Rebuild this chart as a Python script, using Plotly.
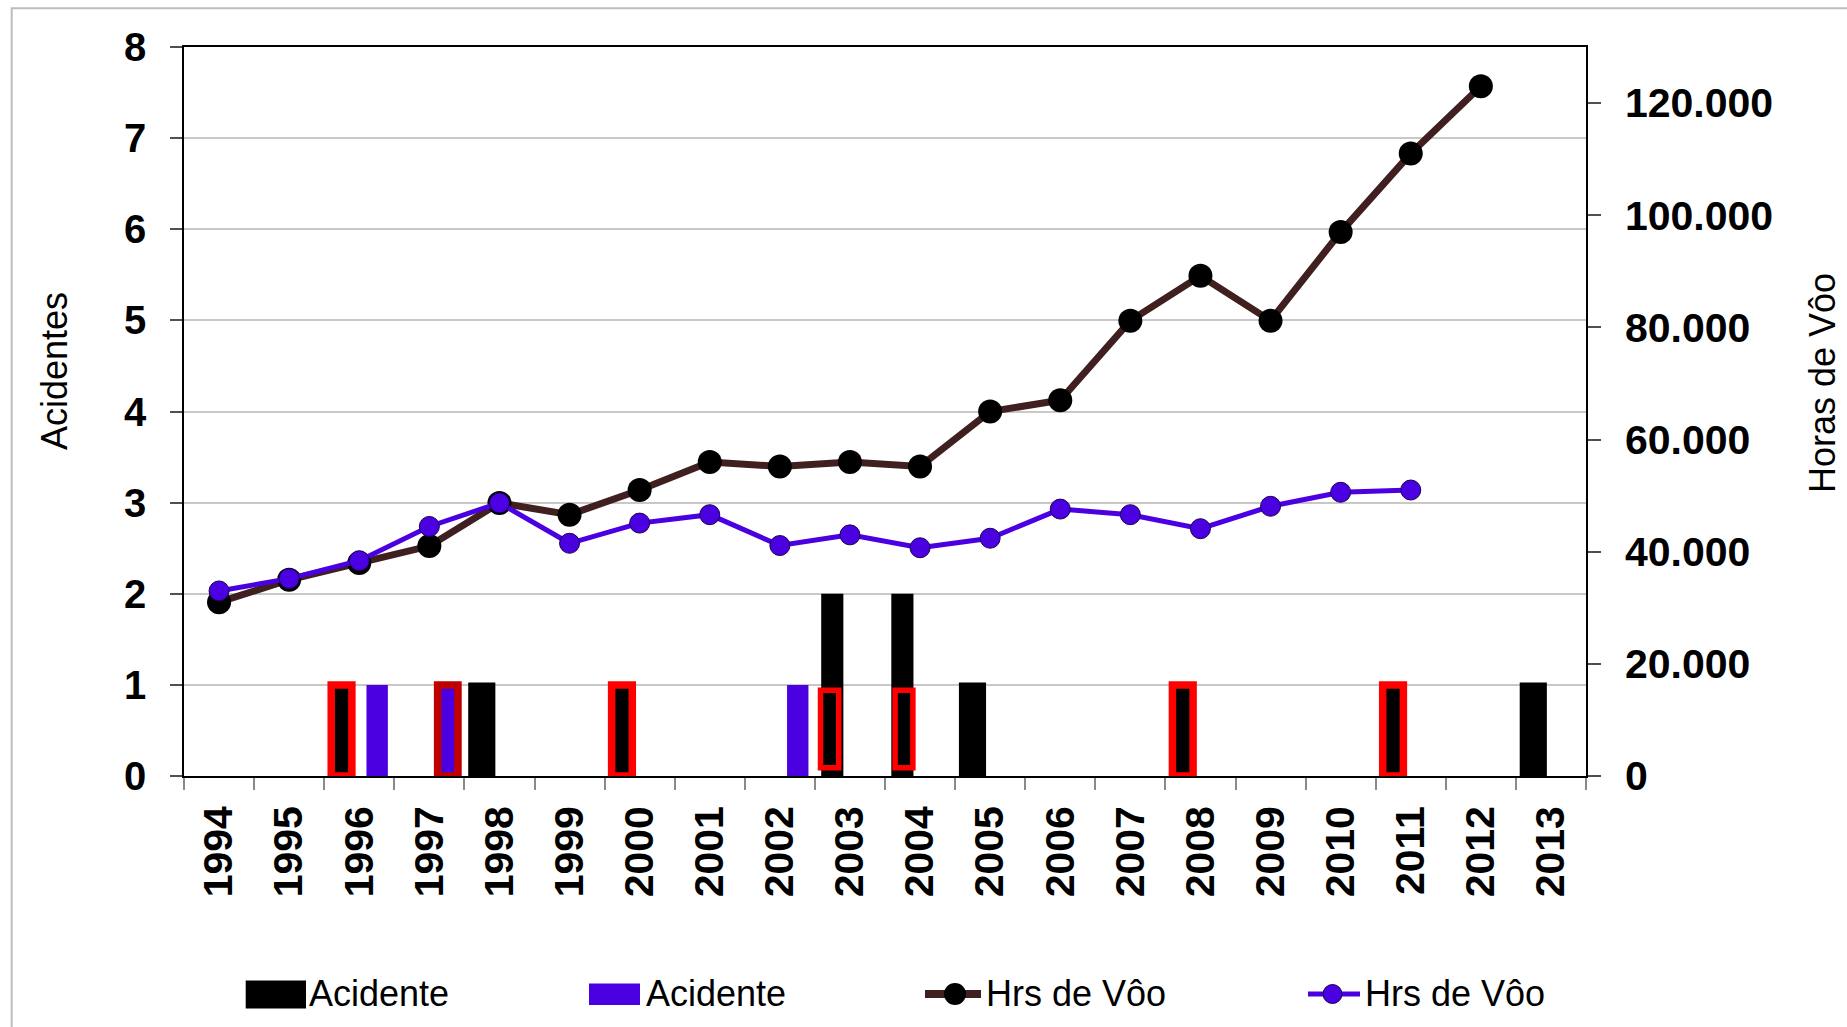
import plotly.graph_objects as go

# ---------------- data ----------------
years = [str(y) for y in range(1994, 2014)]

# accidents (left axis)
acid_black = [None, None, 1, None, 1, None, 1, None, None, 2, 2, 1, None, None, 1, None, None, 1, None, 1]
acid_purple = [None, None, 1, 1, None, None, None, None, 1, None, None, None, None, None, None, None, None, None, None, None]

# flight hours (right axis)
hrs_brown = [31000, 35000, 38000, 41000, 48700, 46600, 51000, 56000, 55200, 56000,
             55200, 65000, 67000, 81200, 89200, 81200, 97000, 111000, 123000, None]
hrs_purple = [33000, 35200, 38400, 44500, 48700, 41500, 45100, 46600, 41100, 43000,
              40700, 42400, 47600, 46600, 44100, 48100, 50600, 51000, None, None]

# highlighted accidents (red boxes)
hl_years = ['1996', '1997', '2000', '2003', '2004', '2008', '2011']
hl_base = [0, 0, 0, 0.09, 0.09, 0, 0]
hl_top = [1, 1, 1, 0.94, 0.94, 1, 1]

y_ticks_right = [0, 20000, 40000, 60000, 80000, 100000, 120000]

# ---------------- styles ----------------
FONT = "Liberation Sans, Arial, sans-serif"
BROWN = "#3f1f1f"
PURPLE = "#4a00e0"

black_line_w = [5 if v is not None and years[i] in ('1998', '2005', '2013') else 0
                for i, v in enumerate(acid_black)]
hl_offset = [-0.40, 0.118, -0.40, -0.42, -0.356, -0.40, -0.40]
hl_width = [0.295, 0.29, 0.295, 0.26, 0.254, 0.295, 0.295]
hl_color = ['#ff0000', '#c00000', '#ff0000', '#ff0000', '#ff0000', '#ff0000', '#ff0000']
hl_lw = [7.5, 7.5, 7.5, 5.5, 5.5, 7.5, 7.5]

W, H = 1847, 1027
ML, MR, MT, MB = 184, 261, 47, 251
PW, PH = W - ML - MR, H - MT - MB


def px(x):
    return (x - ML) / PW


def py(y):
    return (H - MB - y) / PH


fig = go.Figure()

fig.add_trace(go.Bar(
    x=years, y=acid_black, name="Acidente",
    marker=dict(color="black", line=dict(color="black", width=black_line_w)),
    offset=-0.41, width=0.316, showlegend=False,
))
fig.add_trace(go.Bar(
    x=years, y=acid_purple, name="Acidente",
    marker=dict(color=PURPLE, line=dict(width=0)),
    offset=0.103, width=0.305, showlegend=False,
))
fig.add_trace(go.Scatter(
    x=years, y=hrs_brown, yaxis="y2", mode="lines+markers", name="Hrs de Vôo",
    line=dict(color=BROWN, width=7),
    marker=dict(color="black", size=24, line=dict(width=0)),
    showlegend=False,
))
fig.add_trace(go.Scatter(
    x=years, y=hrs_purple, yaxis="y2", mode="lines+markers", name="Hrs de Vôo",
    line=dict(color=PURPLE, width=5),
    marker=dict(color=PURPLE, size=20, line=dict(color="#1a0050", width=1)),
    showlegend=False,
))

shapes = []
annotations = []

# red highlight boxes around selected accident bars
for yr, b, t, off, wd, col, lw in zip(hl_years, hl_base, hl_top, hl_offset, hl_width, hl_color, hl_lw):
    i = years.index(yr)
    shapes.append(dict(type="rect", xref="x", yref="y",
                       x0=i + off, x1=i + off + wd, y0=b, y1=t,
                       line=dict(color=col, width=lw), fillcolor="rgba(0,0,0,0)"))

# ---------------- custom legend ----------------
leg_y = 994
# outer chart border
shapes.append(dict(type="rect", xref="paper", yref="paper",
                   x0=px(11.7), x1=px(1900), y0=py(8.3), y1=py(1100),
                   line=dict(color="#bdbdbd", width=2), layer="below"))
shapes.append(dict(type="rect", xref="paper", yref="paper",
                   x0=px(246.7), x1=px(305), y0=py(981.5), y1=py(1007.5),
                   fillcolor="black", line=dict(color="black", width=2)))
shapes.append(dict(type="rect", xref="paper", yref="paper",
                   x0=px(589), x1=px(640), y0=py(983.5), y1=py(1005),
                   fillcolor=PURPLE, line=dict(width=0)))
shapes.append(dict(type="line", xref="paper", yref="paper",
                   x0=px(925), x1=px(981), y0=py(leg_y), y1=py(leg_y),
                   line=dict(color=BROWN, width=8)))
shapes.append(dict(type="circle", xref="paper", yref="paper",
                   x0=px(944), x1=px(966), y0=py(leg_y - 11), y1=py(leg_y + 11),
                   fillcolor="black", line=dict(width=0)))
shapes.append(dict(type="line", xref="paper", yref="paper",
                   x0=px(1308), x1=px(1360), y0=py(leg_y), y1=py(leg_y),
                   line=dict(color=PURPLE, width=5)))
shapes.append(dict(type="circle", xref="paper", yref="paper",
                   x0=px(1323), x1=px(1342), y0=py(leg_y - 9.5), y1=py(leg_y + 9.5),
                   fillcolor=PURPLE, line=dict(color="#1a0050", width=1)))

for xx, txt in [(307, "Acidente"), (644, "Acidente"), (984, "Hrs de Vôo"), (1363, "Hrs de Vôo")]:
    annotations.append(dict(xref="paper", yref="paper", x=px(xx), y=py(leg_y),
                            xanchor="left", yanchor="middle", text=txt, showarrow=False,
                            font=dict(family=FONT, size=36, color="black")))

annotations.append(dict(xref="paper", yref="paper", x=px(54), y=py(371), text="Acidentes",
                        textangle=-90, showarrow=False, xanchor="center", yanchor="middle",
                        font=dict(family=FONT, size=36, color="black")))
annotations.append(dict(xref="paper", yref="paper", x=px(1822), y=py(383), text="Horas de Vôo",
                        textangle=-90, showarrow=False, xanchor="center", yanchor="middle",
                        font=dict(family=FONT, size=36, color="black")))

fig.update_layout(
    width=W, height=H,
    margin=dict(l=ML, r=MR, t=MT, b=MB, pad=0),
    paper_bgcolor="white", plot_bgcolor="white",
    barmode="overlay",
    separators=",.",
    showlegend=False,
    shapes=shapes,
    annotations=annotations,
    xaxis=dict(
        type="category", categoryorder="array", categoryarray=years,
        range=[-0.5, len(years) - 0.5],
        tickangle=-90, tickson="boundaries",
        ticks="outside", ticklen=12, tickcolor="#8a8a8a", tickwidth=1.5,
        showline=True, linecolor="black", linewidth=1.5, mirror=True,
        showgrid=False, automargin=False, ticklabelstandoff=12,
        tickfont=dict(family=FONT, size=41, color="black", weight="bold"),
    ),
    yaxis=dict(
        range=[0, 8], dtick=1, tick0=0,
        showgrid=True, gridcolor="#c8c8c8", gridwidth=1.5,
        ticks="outside", ticklen=12, tickcolor="#505050", tickwidth=1.5,
        showline=True, linecolor="black", linewidth=1.5,
        zeroline=False, automargin=False, ticklabelstandoff=16,
        tickfont=dict(family=FONT, size=40, color="black", weight="bold"),
    ),
    yaxis2=dict(
        range=[0, 130000], tickvals=y_ticks_right, tickformat=",d",
        overlaying="y", side="right", anchor="x",
        showgrid=False, zeroline=False,
        ticks="outside", ticklen=13, tickcolor="#505050", tickwidth=1.5,
        showline=True, linecolor="black", linewidth=1.5,
        automargin=False, ticklabelstandoff=16,
        tickfont=dict(family=FONT, size=41, color="black", weight="bold"),
    ),
)

fig.write_html(
    "out.html",
    config={"displayModeBar": False},
    post_script="document.body.style.margin='0px';document.body.style.overflow='hidden';",
)
